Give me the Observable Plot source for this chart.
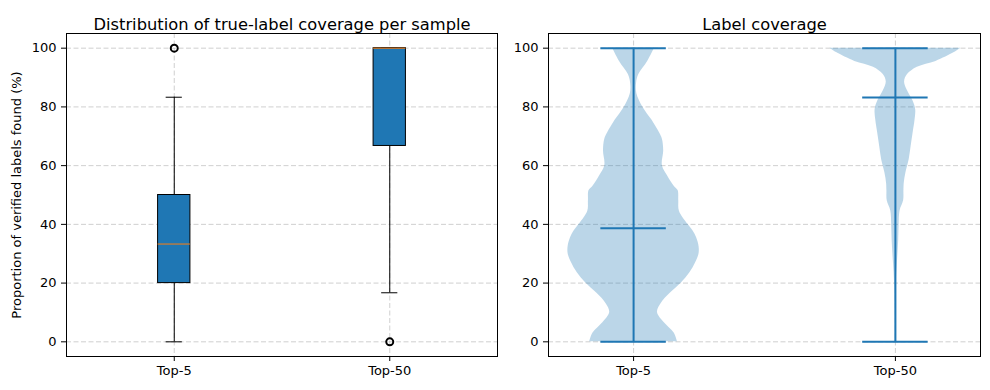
<!DOCTYPE html>
<html>
<head>
<meta charset="utf-8">
<script src="https://cdn.jsdelivr.net/npm/d3@7"></script>
<script src="https://cdn.jsdelivr.net/npm/@observablehq/plot@0.6"></script>
<style>
  html, body { margin: 0; padding: 0; background: white; }
  #wrap { position: relative; width: 990px; height: 390px; overflow: hidden; }
  #left, #right { position: absolute; top: 0; }
  #left { left: 0; }
  #right { left: 500px; }
</style>
</head>
<body>
<div id="wrap"><div id="left"></div><div id="right"></div></div>
<script>
// ---- data ----
const categories = ["Top-5", "Top-50"];
const positions = [1, 2];
const yTicks = [0, 20, 40, 60, 80, 100];

// box plot statistics (%)
const boxQ1 = [20, 66.7];
const boxMedian = [33.3, 100];
const boxQ3 = [50, 100];
const whiskerLow = [0, 16.7];
const whiskerHigh = [83.3, 100];
const outliers = [[100], [0]];

// violin plot summary lines (%)
const violinMin = [0, 0];
const violinMax = [100, 100];
const violinMean = [38.7, 83.2];

// violin density profiles (relative width, 1 = widest)
const top5Levels = [0, 3, 6.5, 10, 13, 16.5, 20, 23.5, 27, 30, 32.5, 35, 37, 40, 44.5, 48, 51.5, 53, 56.5, 60, 65, 69, 71, 75.5, 80, 84.5, 88, 91, 95.5, 100];
const top5Density = [0.67, 0.62, 0.47, 0.365, 0.42, 0.56, 0.73, 0.86, 0.95, 1.0, 1.0, 0.97, 0.93, 0.83, 0.70, 0.69, 0.68, 0.62, 0.52, 0.44, 0.46, 0.44, 0.40, 0.28, 0.14, 0.05, 0.045, 0.08, 0.215, 0.32];
const top50Levels = [0, 6, 12, 18, 23.5, 29, 34.5, 40, 44.5, 48, 51.5, 54, 57.5, 62, 66.5, 71, 75.5, 79, 82, 85.5, 88.5, 91, 93.5, 95.5, 98.5, 100];
const top50Density = [0.004, 0.004, 0.005, 0.01, 0.02, 0.036, 0.05, 0.057, 0.07, 0.125, 0.13, 0.135, 0.16, 0.21, 0.24, 0.27, 0.30, 0.31, 0.27, 0.185, 0.14, 0.185, 0.335, 0.62, 0.90, 1.0];

// ---- drawing ----
const BLUE = "#1f77b4";
const ORANGE = "#ff7f0e";
const FONT = "DejaVu Sans, sans-serif";
const idx = d3.range(categories.length);
const labelOf = d => categories[positions.indexOf(d)];

const gridStyle = {stroke: "#b0b0b0", strokeOpacity: 0.6, strokeDasharray: "5,2.5", strokeWidth: 1};

const boxHalf = 0.075;
const capHalf = 0.0375;
const outlierData = idx.flatMap(i => outliers[i].map(v => ({x: positions[i], v})));

const left = Plot.plot({
  width: 500, height: 390,
  marginLeft: 66, marginRight: 3, marginTop: 33, marginBottom: 34,
  style: {fontFamily: FONT, fontSize: "13px", color: "black", background: "white", overflow: "visible"},
  x: {domain: [0.5, 2.5]},
  y: {domain: [-5, 105]},
  marks: [
    Plot.gridY(yTicks, gridStyle),
    Plot.gridX(positions, gridStyle),
    Plot.ruleX(idx, {x: i => positions[i], y1: i => boxQ3[i], y2: i => whiskerHigh[i], stroke: "black", strokeWidth: 1}),
    Plot.ruleX(idx, {x: i => positions[i], y1: i => boxQ1[i], y2: i => whiskerLow[i], stroke: "black", strokeWidth: 1}),
    Plot.ruleY(idx, {y: i => whiskerHigh[i], x1: i => positions[i] - capHalf, x2: i => positions[i] + capHalf, stroke: "black", strokeWidth: 1}),
    Plot.ruleY(idx, {y: i => whiskerLow[i], x1: i => positions[i] - capHalf, x2: i => positions[i] + capHalf, stroke: "black", strokeWidth: 1}),
    Plot.rect(idx, {x1: i => positions[i] - boxHalf, x2: i => positions[i] + boxHalf, y1: i => boxQ1[i], y2: i => boxQ3[i], fill: BLUE, stroke: "black", strokeWidth: 1}),
    Plot.ruleY(idx, {y: i => boxMedian[i], x1: i => positions[i] - boxHalf, x2: i => positions[i] + boxHalf, stroke: ORANGE, strokeWidth: 1}),
    Plot.dot(outlierData, {x: "x", y: "v", r: 3.5, stroke: "black", strokeWidth: 2, fill: "none"}),
    Plot.axisY({ticks: yTicks, tickSize: 5, tickPadding: 5, label: null}),
    Plot.axisX({ticks: positions, tickFormat: labelOf, tickSize: 5, tickPadding: 4, label: null}),
    Plot.frame({stroke: "black", strokeWidth: 1}),
    Plot.text(["Distribution of true-label coverage per sample"], {frameAnchor: "top", dy: -15, fontSize: 16.3, fill: "black"}),
    Plot.text(["Proportion of verified labels found (%)"], {frameAnchor: "left", textAnchor: "middle", dx: -50, rotate: -90, fontSize: 13, fill: "black"})
  ]
});
document.getElementById("left").append(left);

const violinHalf = 0.25;
const violinData = [
  ...top5Levels.map((v, k) => ({pos: positions[0], v, w: top5Density[k], cat: categories[0]})),
  ...top50Levels.map((v, k) => ({pos: positions[1], v, w: top50Density[k], cat: categories[1]}))
];
const lineHalf = 0.125;

const right = Plot.plot({
  width: 490, height: 390,
  marginLeft: 48, marginRight: 10, marginTop: 33, marginBottom: 34,
  style: {fontFamily: FONT, fontSize: "13px", color: "black", background: "white", overflow: "visible"},
  x: {domain: [0.675, 2.325]},
  y: {domain: [-5, 105]},
  marks: [
    Plot.gridY(yTicks, gridStyle),
    Plot.gridX(positions, gridStyle),
    Plot.areaX(violinData, {z: "cat", y: "v", x1: d => d.pos - d.w * violinHalf, x2: d => d.pos + d.w * violinHalf, fill: BLUE, fillOpacity: 0.3, curve: "catmull-rom"}),
    Plot.ruleX(idx, {x: i => positions[i], y1: i => violinMin[i], y2: i => violinMax[i], stroke: BLUE, strokeWidth: 2}),
    Plot.ruleY(idx, {y: i => violinMax[i], x1: i => positions[i] - lineHalf, x2: i => positions[i] + lineHalf, stroke: BLUE, strokeWidth: 2}),
    Plot.ruleY(idx, {y: i => violinMin[i], x1: i => positions[i] - lineHalf, x2: i => positions[i] + lineHalf, stroke: BLUE, strokeWidth: 2}),
    Plot.ruleY(idx, {y: i => violinMean[i], x1: i => positions[i] - lineHalf, x2: i => positions[i] + lineHalf, stroke: BLUE, strokeWidth: 2}),
    Plot.axisY({ticks: yTicks, tickSize: 5, tickPadding: 5, label: null}),
    Plot.axisX({ticks: positions, tickFormat: labelOf, tickSize: 5, tickPadding: 4, label: null}),
    Plot.frame({stroke: "black", strokeWidth: 1}),
    Plot.text(["Label coverage"], {frameAnchor: "top", dy: -15, fontSize: 16.3, fill: "black"})
  ]
});
document.getElementById("right").append(right);
</script>
</body>
</html>
